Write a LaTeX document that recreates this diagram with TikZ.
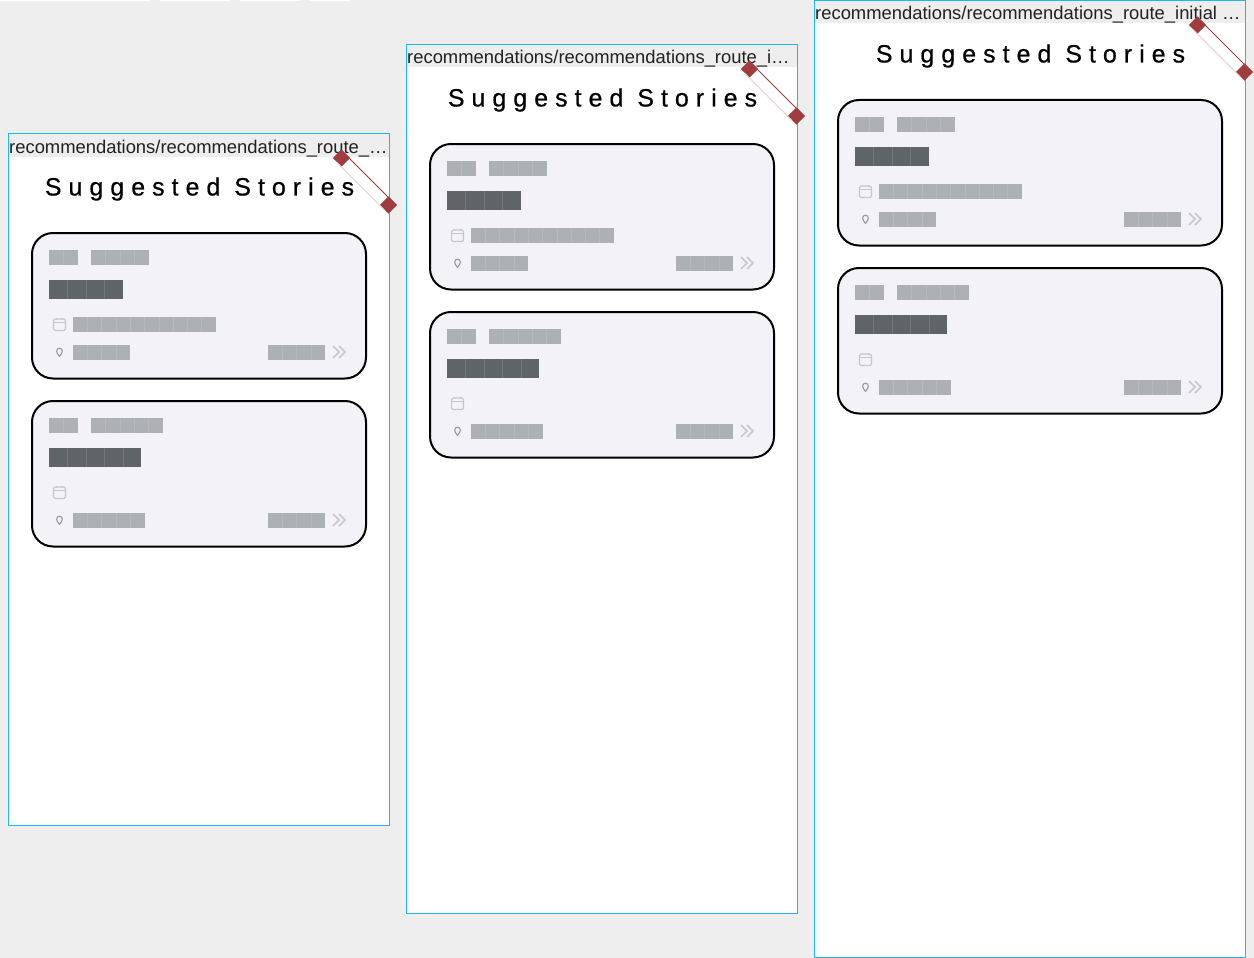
\documentclass[tikz,border=0pt]{standalone}
\usepackage{fontspec}
\setmainfont{Liberation Sans}
\newfontfamily\titlefont[LetterSpace=28,FakeBold=0.6]{Liberation Sans}
\usetikzlibrary{shapes.geometric}
\definecolor{pagegrey}{HTML}{EEEEEE}
\definecolor{framecyan}{HTML}{1FB6F5}
\definecolor{cardfill}{HTML}{F2F2F7}
\definecolor{blocklight}{HTML}{ADB1B3}
\definecolor{blockdark}{HTML}{5F6566}
\definecolor{iconlight}{HTML}{C6C9CB}
\definecolor{handlered}{HTML}{9E3C3E}
\tikzset{
  x=1pt,y=-1pt,
  frameline/.style={draw=framecyan,line width=1pt,fill=white},
  cardbox/.style={draw=black,line width=2pt,fill=cardfill,rounded corners=21pt},
  handle/.style={diamond,fill=handlered,inner sep=0pt,minimum width=17.5pt,minimum height=17.5pt},
  framelabel/.style={anchor=base west,inner sep=0pt,text=black!87,font=\fontsize{18.4}{20}\selectfont},
  cardtitle/.style={inner sep=0pt,text=black,font=\titlefont\fontsize{25}{28}\selectfont},
  icon/.style={draw=iconlight,line width=1.1pt},
  pinicon/.style={draw=black!40,line width=1.1pt},
  chevron/.style={draw=iconlight,line width=1.7pt},
}
% x, y top, cells, cell width, height, colour
\newcommand{\tofu}[6]{%
  \fill[#6] (#1,#2) rectangle ++({#3*#4},#5);
  \foreach \k in {1,...,\numexpr#3-1\relax}
    \draw[white,opacity=.12,line width=.6pt] ({#1+\k*#4},#2) -- ++(0,#5);
}
% left, right, top, cells second block, cells dark, has date, cells place
\newcommand{\storycard}[7]{%
  \draw[cardbox] (#1,#3) rectangle (#2,#3+145.5);
  \tofu{#1+17}{#3+17}{2}{14.5}{15}{blocklight}
  \tofu{#1+59}{#3+17}{#4}{14.4}{15}{blocklight}
  \tofu{#1+17}{#3+47}{#5}{18.45}{19}{blockdark}
  \ifnum#6=1 \tofu{#1+41}{#3+84}{10}{14.3}{15}{blocklight}\fi
  \tofu{#1+41}{#3+112}{#7}{14.3}{15}{blocklight}
  \tofu{#2-98}{#3+112}{4}{14.3}{15}{blocklight}
  % calendar icon
  \draw[icon,rounded corners=1.5pt] (#1+21.5,#3+86) rectangle (#1+33.5,#3+97.5);
  \draw[icon] (#1+21.5,#3+89.5) -- (#1+33.5,#3+89.5)
    (#1+24.5,#3+84.5) -- (#1+24.5,#3+87) (#1+30.5,#3+84.5) -- (#1+30.5,#3+87);
  % pin icon
  \draw[pinicon] (#1+27.5,#3+123.5) .. controls (#1+25.5,#3+121) and (#1+24.7,#3+119.5) .. (#1+24.7,#3+118)
    arc[start angle=180,end angle=360,radius=2.8] .. controls (#1+30.3,#3+119.5) and (#1+29.5,#3+121) .. (#1+27.5,#3+123.5);
  % double chevron
  \draw[chevron] (#2-33,#3+113) -- (#2-27,#3+119) -- (#2-33,#3+125)
                 (#2-27,#3+113) -- (#2-21,#3+119) -- (#2-27,#3+125);
}
% id, left, top, right, bottom, label
\newcommand{\phoneframe}[6]{%
  \draw[frameline] (#2,#3) rectangle (#4,#5);
  \fill[pagegrey] (#2+.5,#3+.5) rectangle (#4-.5,#3+23);
  \node[framelabel] (#1label) at (#2+.5,#3+19.5) {#6};
  \node[cardtitle] (#1title) at ({(#2+#4)/2+.5},#3+55.5) {Suggested Stories};
  \storycard{#2+23.5}{#4-23.5}{#3+99.5}{4}{4}{1}{4}
  \storycard{#2+23.5}{#4-23.5}{#3+267.5}{5}{5}{0}{5}
  \node[handle] (#1ha) at (#4-48,#3+24.5) {};
  \node[handle] (#1hb) at (#4-1,#3+71.5) {};
  \draw[handlered,line width=.9pt] ([shift={(3.7,-3.7)}]#1ha.center) -- ([shift={(3.7,-3.7)}]#1hb.center);
  \draw[handlered!25,line width=.8pt] ([shift={(-4.5,4.5)}]#1ha.center) -- ([shift={(-4.5,4.5)}]#1hb.center);
}
\begin{document}
\begin{tikzpicture}
\useasboundingbox (0,0) rectangle (1254,958);
\fill[pagegrey] (0,0) rectangle (1254,958);
\fill[white] (0,0) rectangle (150,1) (160,0) rectangle (230,1) (240,0) rectangle (300,1) (310,0) rectangle (350,1);
\phoneframe{a}{8.5}{133.5}{389.5}{825.5}{recommendations/recommendations\_route\_…}
\phoneframe{b}{406.5}{44.5}{797.5}{913.5}{recommendations/recommendations\_route\_i…}
\phoneframe{c}{814.5}{0.5}{1245.5}{957.5}{recommendations/recommendations\_route\_initial …}
\end{tikzpicture}
\end{document}
